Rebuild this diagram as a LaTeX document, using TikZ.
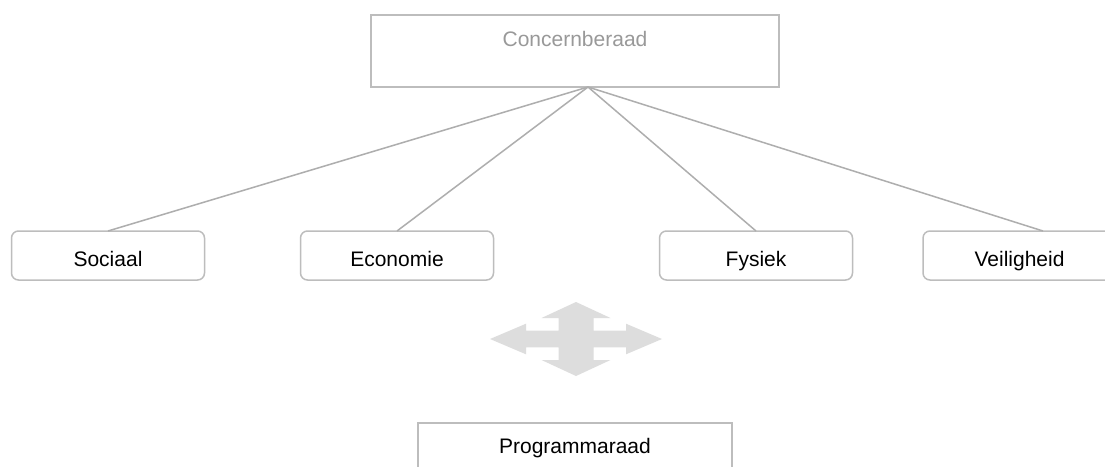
\documentclass[tikz,border=0pt]{standalone}
\usepackage{fontspec}
\setmainfont{Liberation Sans}
\definecolor{edgegray}{HTML}{AEAEAE}
\definecolor{boxgray}{HTML}{BDBDBD}
\definecolor{headgray}{HTML}{999999}
\definecolor{arrowfill}{HTML}{DDDDDD}
\begin{document}
\begin{tikzpicture}[x=1pt,y=-1pt,
  every node/.style={font=\fontsize{21}{25}\selectfont, inner sep=0pt, outer sep=0pt,
    text height=21pt, text depth=0pt},
  topbox/.style={draw=boxgray, line width=2pt, rectangle, minimum width=408pt, minimum height=72pt},
  domainbox/.style={draw=boxgray, line width=1.5pt, rounded corners=7pt, minimum width=193pt, minimum height=49pt},
  progbox/.style={draw=boxgray, line width=1.8pt, rectangle, minimum width=314pt, minimum height=80pt},
  link/.style={draw=edgegray, line width=1.5pt}]
\clip (0,0) rectangle (1105,466);
\fill[white] (0,0) rectangle (1105,466);

% top level
\node[topbox, text height=0pt] (cb) at (575,51) {};
\node[text=headgray] (cbt) at (575,35.5) {Concernberaad};
\coordinate (apex) at (588,87);

% domains
\node[domainbox] (soc) at (108,255.5) {Sociaal};
\node[domainbox] (eco) at (397,255.5) {Economie};
\node[domainbox] (fys) at (756,255.5) {Fysiek};
\node[domainbox] (vei) at (1019.5,255.5) {Veiligheid};
\coordinate (veitop) at (1043,231);

% connectors
\draw[link] (apex) -- (soc.north);
\draw[link] (apex) -- (eco.north);
\draw[link] (apex) -- (fys.north);
\draw[link] (apex) -- (veitop);

% four-way arrow
\begin{scope}[shift={(576,339)}]
\fill[arrowfill] (0,-37) -- (34.5,-21) -- (17.5,-21) -- (17.5,-8.3) -- (50,-8.3) -- (50,-15.3)
  -- (86,0) -- (50,15.3) -- (50,8.3) -- (17.5,8.3) -- (17.5,21) -- (34.5,21) -- (0,37)
  -- (-34.5,21) -- (-17.5,21) -- (-17.5,8.3) -- (-50,8.3) -- (-50,15.3) -- (-86,0)
  -- (-50,-15.3) -- (-50,-8.3) -- (-17.5,-8.3) -- (-17.5,-21) -- (-34.5,-21) -- cycle;
\end{scope}

% programme board
\node[progbox, text height=0pt] (pr) at (575,463) {};
\node (prt) at (575,442.5) {Programmaraad};
\end{tikzpicture}
\end{document}
